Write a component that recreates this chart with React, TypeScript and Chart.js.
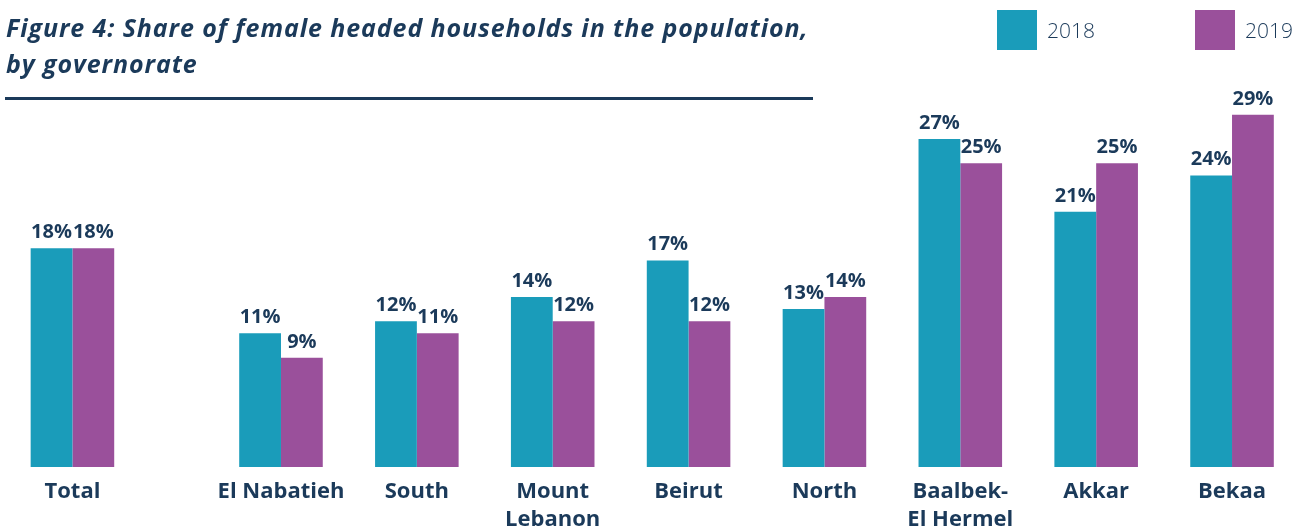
import React, { useEffect, useRef } from "react";
import { Chart, registerables } from "chart.js";

Chart.register(...registerables);

const NAVY = "#1b3a5a";
const TEAL = "#1a9cba";
const PURPLE = "#9a509b";

const categories: (string | string[])[] = [
  "Total",
  "El Nabatieh",
  "South",
  ["Mount", "Lebanon"],
  "Beirut",
  "North",
  ["Baalbek-", "El Hermel"],
  "Akkar",
  "Bekaa",
];
// x positions on a linear axis (Total separated from governorates by a wider gap)
const positions = [0, 1.535, 2.535, 3.535, 4.535, 5.535, 6.535, 7.535, 8.535];
const values2018 = [18, 11, 12, 14, 17, 13, 27, 21, 24];
const values2019 = [18, 9, 11, 12, 12, 14, 25, 25, 29];
const seriesNames = ["2018", "2019"];
const titleLines = [
  "Figure 4: Share of female headed households in the population,",
  "by governorate",
];

const valueLabels = {
  id: "valueLabels",
  afterDatasetsDraw(chart: any) {
    const ctx = chart.ctx;
    ctx.save();
    ctx.font = 'bold 20px "Open Sans"';
    ctx.fillStyle = NAVY;
    ctx.textAlign = "center";
    ctx.textBaseline = "alphabetic";
    chart.data.datasets.forEach((ds: any, di: number) => {
      const meta = chart.getDatasetMeta(di);
      meta.data.forEach((el: any, i: number) => {
        const v = ds.data[i].y;
        ctx.fillText(v + "%", el.x, el.y - 10);
      });
    });
    ctx.restore();
  },
};

export default function App() {
  const canvasRef = useRef<HTMLCanvasElement | null>(null);

  useEffect(() => {
    if (!canvasRef.current) return;
    const chart = new Chart(canvasRef.current, {
      type: "bar",
      data: {
        datasets: [
          {
            label: seriesNames[0],
            data: positions.map((x, i) => ({ x, y: values2018[i] })),
            backgroundColor: TEAL,
            borderWidth: 0,
            categoryPercentage: 0.615,
            barPercentage: 1,
          },
          {
            label: seriesNames[1],
            data: positions.map((x, i) => ({ x, y: values2019[i] })),
            backgroundColor: PURPLE,
            borderWidth: 0,
            categoryPercentage: 0.615,
            barPercentage: 1,
          },
        ],
      },
      options: {
        animation: false,
        responsive: false,
        maintainAspectRatio: false,
        layout: { padding: { top: 102.5, left: 4.5, right: 6, bottom: 0 } },
        plugins: {
          legend: { display: false },
          title: { display: false },
          tooltip: { enabled: false },
        },
        scales: {
          x: {
            type: "linear",
            min: -0.5,
            max: 9.05,
            offset: false,
            grid: { display: false, drawTicks: false },
            border: { display: false },
            afterBuildTicks: (axis: any) => {
              axis.ticks = positions.map((v) => ({ value: v }));
            },
            afterFit: (axis: any) => {
              axis.height = 63;
            },
            ticks: {
              autoSkip: false,
              maxRotation: 0,
              minRotation: 0,
              padding: 11,
              color: NAVY,
              font: { family: "Open Sans", weight: "bold", size: 22, lineHeight: 1.25 },
              callback: (_v: any, index: number) => categories[index] as any,
            },
          },
          y: {
            display: false,
            min: 0,
            max: 30,
          },
        },
      },
      plugins: [valueLabels],
    } as any);
    return () => chart.destroy();
  }, []);

  return (
    <div
      style={{
        position: "absolute",
        left: 0,
        top: 0,
        width: 1308,
        height: 530,
        background: "#fff",
        overflow: "hidden",
      }}
    >
      <canvas
        ref={canvasRef}
        width={1308}
        height={530}
        style={{ position: "absolute", left: 0, top: 0, width: 1308, height: 530 }}
      />
      <div
        style={{
          position: "absolute",
          left: 6,
          top: 9,
          fontFamily: '"Open Sans", sans-serif',
          fontWeight: 700,
          fontStyle: "italic",
          fontSize: 25,
          letterSpacing: "0.9px",
          lineHeight: "36px",
          color: NAVY,
          whiteSpace: "nowrap",
        }}
      >
        {titleLines.map((t, i) => (
          <div key={i}>{t}</div>
        ))}
      </div>
      <div
        style={{
          position: "absolute",
          left: 5,
          top: 97,
          width: 808,
          height: 3,
          background: NAVY,
        }}
      />
      {seriesNames.map((name, i) => (
        <div
          key={name}
          style={{
            position: "absolute",
            left: i === 0 ? 997 : 1195,
            top: 10,
            height: 40,
            display: "flex",
            alignItems: "center",
            fontFamily: '"Open Sans", sans-serif',
            fontWeight: 300,
            fontSize: 21,
            color: NAVY,
          }}
        >
          <span
            style={{
              display: "inline-block",
              width: 40,
              height: 40,
              background: i === 0 ? TEAL : PURPLE,
              marginRight: 10,
            }}
          />
          <span>{name}</span>
        </div>
      ))}
    </div>
  );
}
